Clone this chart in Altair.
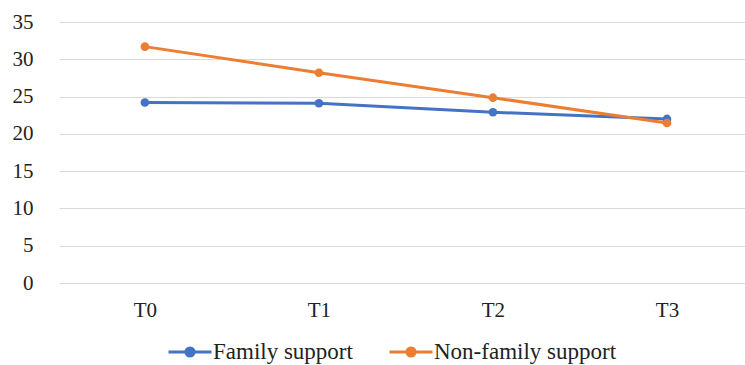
import altair as alt
import pandas as pd

times = ["T0", "T1", "T2", "T3"]
family = [24.2, 24.1, 22.9, 22.0]
nonfamily = [31.7, 28.2, 24.85, 21.45]
series_names = ["Family support", "Non-family support"]
colors = ["#4472C4", "#ED7D31"]
y_ticks = [0, 5, 10, 15, 20, 25, 30, 35]

rows = []
for name, vals in zip(series_names, [family, nonfamily]):
    for t, v in zip(times, vals):
        rows.append({"time": t, "value": v, "series": name})
df = pd.DataFrame(rows)

sym = "M-1,0L1,0M0.19,0A0.19,0.19,0,1,1,-0.19,0A0.19,0.19,0,1,1,0.19,0Z"
serif = "'Times New Roman', 'Liberation Serif', serif"

chart = alt.Chart(df).mark_line(
    strokeWidth=3,
    point=alt.OverlayMarkDef(filled=True, size=75),
).encode(
    x=alt.X("time:N", sort=times, title=None,
            scale=alt.Scale(type="point", padding=0.471, align=0.524),
            axis=alt.Axis(labelAngle=0, ticks=False, domain=False, grid=False,
                          labelPadding=16)),
    y=alt.Y("value:Q", title=None,
            scale=alt.Scale(domain=[0, 35], nice=False),
            axis=alt.Axis(values=y_ticks, ticks=False, domain=False,
                          labelPadding=26, gridColor="#D9D9D9", gridWidth=1)),
    color=alt.Color("series:N", sort=series_names,
                    scale=alt.Scale(domain=series_names, range=colors),
                    legend=alt.Legend(title=None, orient="none", direction="horizontal",
                                      legendX=108, legendY=307,
                                      symbolType=sym, symbolSize=1849,
                                      symbolStrokeWidth=3, columnPadding=30,
                                      labelOffset=0, labelLimit=400)),
).properties(
    width=686, height=261,
    autosize=alt.AutoSizeParams(type="none"),
    padding={"left": 59, "top": 22, "right": 0, "bottom": 82},
).configure_view(stroke=None).configure_axis(
    labelFont=serif, labelFontSize=21, labelColor="#222222"
).configure_legend(
    labelFont=serif, labelFontSize=23, labelColor="#222222"
)

chart.save("out.html", embed_options={"renderer": "svg", "actions": False})
